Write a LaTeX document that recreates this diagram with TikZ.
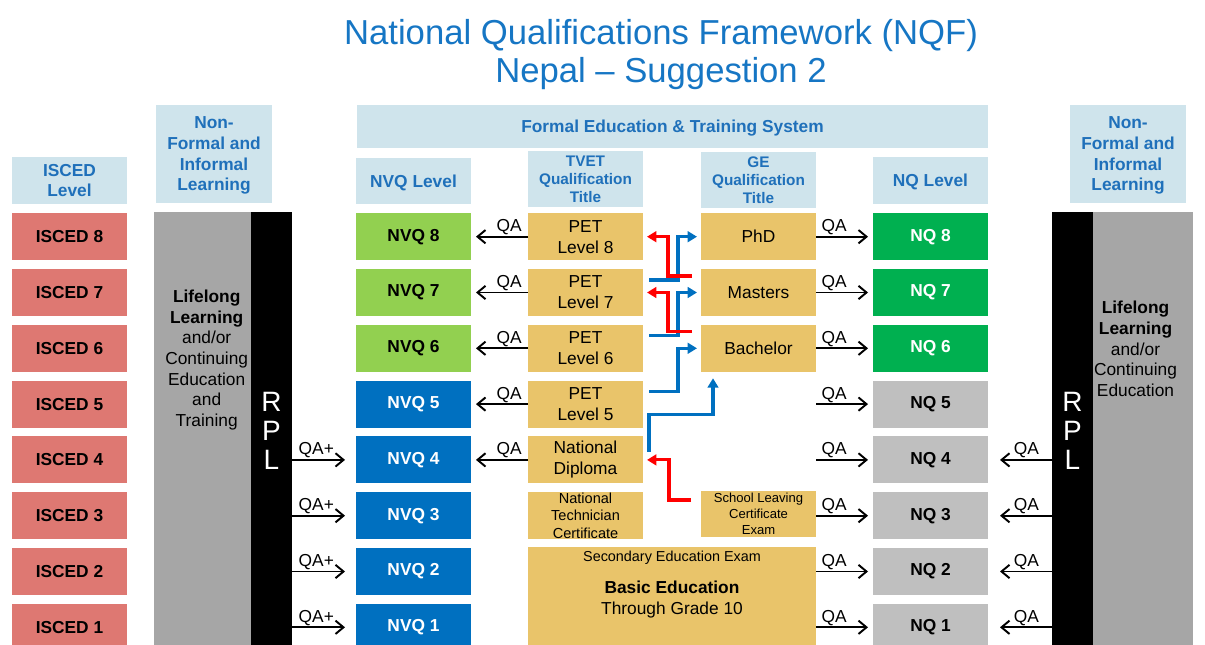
\documentclass[tikz,border=0pt]{standalone}
\usepackage{fontspec}
\setmainfont{Liberation Sans}
\usetikzlibrary{arrows.meta,calc}
\definecolor{hdrbg}{RGB}{207,228,236}
\definecolor{hdrtxt}{RGB}{31,112,186}
\definecolor{titleblue}{RGB}{22,118,196}
\definecolor{iscedred}{RGB}{222,120,114}
\definecolor{nvqgreen}{RGB}{146,208,80}
\definecolor{nvqblue}{RGB}{0,112,192}
\definecolor{nqgreen}{RGB}{0,176,80}
\definecolor{nqgrey}{RGB}{191,191,191}
\definecolor{goldbox}{RGB}{233,196,106}
\definecolor{panelgrey}{RGB}{166,166,166}
\definecolor{arrred}{RGB}{255,0,0}
\definecolor{arrblue}{RGB}{0,112,192}
\begin{document}
\begin{tikzpicture}[x=0.75pt,y=-0.75pt,
 base/.style={rectangle,inner sep=0pt,outer sep=0pt,align=center},
 lvl/.style={base,minimum width=86.25pt,minimum height=35.25pt,font=\fontsize{13}{15.5}\selectfont\bfseries},
 isced/.style={lvl,fill=iscedred},
 nvqg/.style={lvl,fill=nvqgreen},
 nvqb/.style={lvl,fill=nvqblue,text=white},
 nqg/.style={lvl,fill=nqgreen,text=white},
 nqgr/.style={lvl,fill=nqgrey},
 qual/.style={base,minimum width=86.25pt,minimum height=35.25pt,fill=goldbox,font=\fontsize{13}{15.7}\selectfont},
 hdr/.style={base,fill=hdrbg,text=hdrtxt,text depth=0pt,font=\fontsize{13}{15.5}\selectfont\bfseries},
 qa/.style={line width=1.45pt,-{Straight Barb[length=6pt,width=10pt]}},
 qalbl/.style={font=\fontsize{13}{15}\selectfont,inner sep=0pt,above,yshift=0.5pt,pos=0.33},
 flowred/.style={draw=arrred,line width=2.3pt,-{Triangle[length=7pt,width=8pt]}},
 flowblue/.style={draw=arrblue,line width=2.3pt,-{Triangle[length=7pt,width=8pt]}},
 paneltext/.style={align=center,font=\fontsize{13}{15.5}\selectfont,inner sep=0pt}
]
\useasboundingbox (0,0) rectangle (1205,645);
\clip (0,0) rectangle (1205,645);

% title
\node[font=\fontsize{26}{28.5}\selectfont,text=titleblue,align=center] (title) at (661,55)
  {National Qualifications Framework (NQF)\\Nepal – Suggestion 2};

% headers
\node[hdr,minimum width=86.25pt,minimum height=35pt] (hIsced) at (69.5,180.5) {ISCED\\Level};
\node[hdr,minimum width=87pt,minimum height=73.5pt] (hNFL) at (214,154) {Non-\\Formal and\\Informal\\Learning};
\node[hdr,minimum width=473.25pt,minimum height=32.25pt] (hFormal) at (672.5,126.5) {Formal Education \& Training System};
\node[hdr,minimum width=86.25pt,minimum height=35pt] (hNVQ) at (413.5,181) {NVQ Level};
\node[hdr,minimum width=86.25pt,minimum height=42pt,font=\fontsize{11.5}{13.5}\selectfont\bfseries] (hTVET) at (585.5,179.5) {TVET\\Qualification\\Title};
\node[hdr,minimum width=86.25pt,minimum height=42pt,font=\fontsize{11.5}{13.5}\selectfont\bfseries] (hGE) at (758.5,180) {GE\\Qualification\\Title};
\node[hdr,minimum width=86.25pt,minimum height=35pt] (hNQ) at (930.5,180.5) {NQ Level};
\node[hdr,minimum width=87pt,minimum height=73.5pt] (hNFR) at (1128,154) {Non-\\Formal and\\Informal\\Learning};

% side panels
\node[base,fill=panelgrey,minimum width=72.75pt,minimum height=328.5pt] (nflL) at (202.5,431) {};
\node[base,fill=black,text=white,minimum width=30.75pt,minimum height=328.5pt,font=\fontsize{21}{21.75}\selectfont] (rplL) at (271.5,431) {R\\P\\L};
\node[paneltext] (txtL) at (206.7,360) {\textbf{Lifelong}\\\textbf{Learning}\\and/or\\Continuing\\Education\\and\\Training};
\node[base,fill=panelgrey,minimum width=75pt,minimum height=328.5pt] (nflR) at (1143,431) {};
\node[base,fill=black,text=white,minimum width=30.75pt,minimum height=328.5pt,font=\fontsize{21}{21.75}\selectfont] (rplR) at (1072.5,431) {R\\P\\L};
\node[paneltext] (txtR) at (1135.5,349) {\textbf{Lifelong}\\\textbf{Learning}\\and/or\\Continuing\\Education};

% level columns
\foreach \k/\y in {8/236.7,7/292.5,6/348.3,5/404.1,4/459.9,3/515.7,2/571.5,1/627.3}
  \node[isced] (isced\k) at (69.5,\y) {ISCED \k};
\foreach \k/\y in {8/236.7,7/292.5,6/348.3}
  \node[nvqg] (nvq\k) at (413.5,\y) {NVQ \k};
\foreach \k/\y in {5/404.1,4/459.9,3/515.7,2/571.5,1/627.3}
  \node[nvqb] (nvq\k) at (413.5,\y) {NVQ \k};
\foreach \k/\y in {8/236.7,7/292.5,6/348.3}
  \node[nqg] (nq\k) at (930.5,\y) {NQ \k};
\foreach \k/\y in {5/404.1,4/459.9,3/515.7,2/571.5,1/627.3}
  \node[nqgr] (nq\k) at (930.5,\y) {NQ \k};

% TVET qualifications
\foreach \k/\y in {8/236.7,7/292.5,6/348.3,5/404.1}
  \node[qual] (tvet\k) at (585.5,\y) {PET\\Level \k};
\node[qual] (tvet4) at (585.5,459.9) {National\\Diploma};
\node[qual,font=\fontsize{10.9}{13}\selectfont] (tvet3) at (585.5,515.7) {National\\Technician\\Certificate};

% GE qualifications
\node[qual] (ge8) at (758.5,236.7) {PhD};
\node[qual] (ge7) at (758.5,292.5) {Masters};
\node[qual] (ge6) at (758.5,348.3) {Bachelor};
\node[qual,minimum height=34.5pt,font=\fontsize{9.8}{11.8}\selectfont] (ge3) at (758.5,513.7) {School Leaving\\Certificate\\Exam};

% basic education
\node[base,fill=goldbox,minimum width=216pt,minimum height=77.5pt] (basic) at (672,598.4) {};
\node[inner sep=0pt,font=\fontsize{10.8}{13}\selectfont] (see) at (672,557.5) {Secondary Education Exam};
\node[inner sep=0pt,align=center,font=\fontsize{13}{15.75}\selectfont] (betxt) at (672,600) {\textbf{Basic Education}\\Through Grade 10};

% QA arrows TVET -> NVQ
\foreach \k in {8,7,6,5,4}
  \draw[qa,shorten >=3.75pt] (tvet\k.west) -- node[qalbl]{QA} (nvq\k.east);
% QA+ arrows RPL -> NVQ
\foreach \k in {4,3,2,1}
  \draw[qa,shorten >=8.25pt] (rplL.east |- nvq\k.west) -- node[qalbl,pos=0.38]{QA+} (nvq\k.west);
% QA arrows GE -> NQ
\foreach \k in {8,7,6}
  \draw[qa,shorten >=3.75pt] (ge\k.east) -- node[qalbl,pos=0.32]{QA} (nq\k.west);
\foreach \k in {5,4,3}
  \draw[qa,shorten >=3.75pt] (ge6.east |- nq\k.west) -- node[qalbl,pos=0.32]{QA} (nq\k.west);
\foreach \k in {2,1}
  \draw[qa,shorten >=3.75pt] (basic.east |- nq\k.west) -- node[qalbl,pos=0.32]{QA} (nq\k.west);
% QA arrows RPL -> NQ
\foreach \k in {4,3,2,1}
  \draw[qa,shorten >=9pt] (rplR.west |- nq\k.east) -- node[qalbl,pos=0.4]{QA} (nq\k.east);

% progression arrows (blue)
\draw[flowblue] ($(tvet7.north east)+(6,11)$) -| ($(ge8.west)+(-23,0)$) -- ($(ge8.west)+(-4,0)$);
\draw[flowblue] ($(tvet6.north east)+(6,11)$) -| ($(ge7.west)+(-23,0)$) -- ($(ge7.west)+(-4,0)$);
\draw[flowblue] ($(tvet5.north east)+(6,11)$) -| ($(ge6.west)+(-23,0)$) -- ($(ge6.west)+(-4,0)$);
\draw[flowblue] ($(tvet4.east)+(6,-8)$) |- ($(ge6.south west)+(12,43)$) -- ($(ge6.south west)+(12,6.5)$);
% progression arrows (red)
\draw[flowred] ($(ge7.north west)+(-9,7)$) -| ($(tvet8.east)+(25,0)$) -- ($(tvet8.east)+(4,0)$);
\draw[flowred] ($(ge6.north west)+(-9,7)$) -| ($(tvet7.east)+(25,0)$) -- ($(tvet7.east)+(4,0)$);
\draw[flowred] ($(ge3.west)+(-10,-13.7)$) -| ($(tvet4.east)+(26,0)$) -- ($(tvet4.east)+(4,0)$);
\end{tikzpicture}
\end{document}
